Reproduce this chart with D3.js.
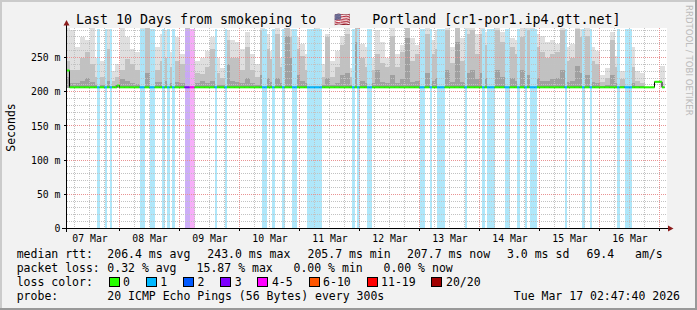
<!DOCTYPE html>
<html>
<head>
<meta charset="utf-8">
<script src="https://cdn.jsdelivr.net/npm/d3@7"></script>
<style>
	body { margin: 0; background: #f2f2f2; }
	svg { display: block; }
</style>
</head>
<body>
<div id="chart"></div>
<script>
// Smokeping 10 day graph, redrawn with d3

var HOUR = 3600 * 1000;
var startTime = Date.UTC(2026, 2, 7, 2, 47, 40);
var endTime = Date.UTC(2026, 2, 17, 2, 47, 40);
var smokeStart = Date.UTC(2026, 2, 7, 2, 0, 0);   // first 2h smoke block
var smokeFloor = 205;                              // ms, bottom of the smoke

// smoke, one value per 2 hour block (ms): top of light / mid / dark band
var smokeHi = [
	300, 290, 265, 280, 275, 300, 250, 245, 292, 230,
	240, 300, 280, 262, 258, 300, 300, 292, 265, 285,
	290, 258, 280, 255, 300, 282, 245, 250, 260, 280,
	250, 235, 290, 275, 272, 262, 288, 255, 240, 300,
	285, 260, 300, 250, 300, 292, 280, 270, 255, 288,
	300, 240, 285, 245, 260, 282, 300, 235, 300, 270,
	265, 250, 290, 272, 250, 295, 255, 268, 300, 278,
	268, 285, 300, 275, 290, 288, 300, 265, 300, 278,
	300, 300, 285, 300, 288, 280, 300, 288, 280, 278,
	275, 300, 295, 300, 285, 282, 272, 275, 270, 300,
	265, 270, 300, 292, 295, 265, 260, 225, 235, 288,
	252, 230, 245, 265, 230, 228, null, null, null, 237
];
var smokeMid = [
	245, 232, 232, 250, 258, 240, 222, 222, 262, 216,
	222, 232, 248, 240, 232, 290, 300, 275, 232, 245,
	250, 236, 245, 240, 300, 268, 228, 226, 236, 262,
	228, 220, 275, 250, 250, 232, 265, 232, 222, 290,
	262, 248, 285, 236, 300, 280, 262, 252, 232, 268,
	292, 222, 280, 222, 236, 268, 285, 222, 300, 250,
	236, 232, 255, 242, 236, 282, 236, 258, 300, 245,
	255, 265, 285, 255, 262, 268, 290, 242, 300, 245,
	285, 290, 255, 285, 268, 262, 290, 272, 262, 265,
	255, 280, 290, 280, 265, 258, 250, 255, 258, 290,
	245, 250, 292, 280, 282, 245, 240, 214, 220, 275,
	236, 218, 222, 236, 216, 213, null, null, null, null
];
var smokeLo = [
	222, 212, 212, 216, 220, 214, 210, 210, 216, 209,
	210, 218, 216, 212, 211, 225, 228, 228, 214, 214,
	216, 212, 214, 212, 232, 224, 212, 216, 212, 216,
	210, 210, 240, 216, 214, 212, 220, 212, 210, 224,
	220, 214, 220, 212, 282, 250, 225, 216, 212, 228,
	242, 210, 220, 210, 212, 224, 228, 210, 272, 216,
	212, 212, 232, 214, 212, 224, 212, 218, 278, 214,
	216, 220, 228, 216, 220, 224, 232, 214, 272, 214,
	228, 232, 218, 228, 220, 220, 232, 222, 218, 220,
	216, 232, 225, 228, 220, 216, 216, 218, 220, 232,
	214, 216, 238, 228, 225, 214, 212, 209, 210, 224,
	212, 209, 210, 212, 209, 208, null, null, null, null
];

// hours (counted from smokeStart) with packet loss
var lossHours1 = [13, 16, 18, 30, 31, 34, 35, 39, 41, 43, 60, 64, 79, 80, 83, 87, 91, 92,
	97, 98, 99, 100, 101, 102, 115, 117, 121, 122, 142, 143, 146, 149, 150, 151, 160,
	167, 169, 170, 171, 176, 177, 181, 184, 186, 187, 188, 200, 207, 210, 221, 224, 225, 226];
var lossHours3 = [48, 49];
var lossHours45 = [50, 51];

// median rtt runs: [first hour, end hour, ms]
var medianRuns = [[0, 2, 231], [2, 21, 206.4], [21, 22, 209], [22, 236, 206.4],
	[236, 239, 214.5], [239, 240, 206.4]];

var yTickValues = [0, 50, 100, 150, 200, 250];
var xTickLabels = ['07 Mar', '08 Mar', '09 Mar', '10 Mar', '11 Mar', '12 Mar', '13 Mar',
	'14 Mar', '15 Mar', '16 Mar'];

var lossNames = ['0', '1', '2', '3', '4-5', '6-10', '11-19', '20/20'];
var lossColors = ['#26ff00', '#00b8ff', '#0059ff', '#7e00ff', '#ff00ff', '#ff5500', '#ff0000', '#a10000'];

var legendLine1 = ['median rtt:', '206.4 ms avg', '243.0 ms max', '205.7 ms min', '207.7 ms now',
	'3.0 ms sd', '69.4   am/s'];
var legendLine2 = ['packet loss:', '0.32 % avg', '15.87 % max', '0.00 % min', '0.00 % now'];
var probeText = '20 ICMP Echo Pings (56 Bytes) every 300s';
var stampText = 'Tue Mar 17 02:47:40 2026';

// ---------------------------------------------------------------
var mono = '"DejaVu Sans Mono", monospace';
var W = 697, H = 310;

var svg = d3.select('#chart').append('svg')
	.attr('width', W)
	.attr('height', H)
	.style('font-family', mono);

svg.append('rect').attr('width', W).attr('height', H).attr('fill', '#f2f2f2');
svg.append('path').attr('d', 'M0,0H697V2H2V310H0Z').attr('fill', '#cbcbcb');
svg.append('path').attr('d', 'M697,0V310H0V308H695V0Z').attr('fill', '#999999');

var x = d3.scaleUtc().domain([startTime, endTime]).range([66.5, 666.5]);
var y = d3.scaleLinear().domain([0, 292.4]).range([228.5, 28.5]);

// white canvas
svg.append('rect')
	.attr('x', 67).attr('y', 28)
	.attr('width', 600).attr('height', 200)
	.attr('fill', '#ffffff');

svg.append('clipPath').attr('id', 'plotclip')
	.append('rect')
	.attr('x', 67).attr('y', 28)
	.attr('width', 600).attr('height', 200);

var plot = svg.append('g').attr('clip-path', 'url(#plotclip)');

// smoke
var blocks = smokeHi.map(function(v, i) {
	return {t: smokeStart + i * 2 * HOUR, hi: v, mid: smokeMid[i], lo: smokeLo[i]};
});
var layers = [['hi', '#dfdfdf'], ['mid', '#c1c1c1'], ['lo', '#a0a0a0']];
layers.forEach(function(l) {
	plot.append('g')
		.attr('shape-rendering', 'crispEdges')
		.selectAll('rect')
		.data(blocks.filter(function(d) { return d[l[0]] != null; }))
		.enter()
		.append('rect')
		.attr('x', function(d) { return x(d.t); })
		.attr('width', function(d) { return x(d.t + 2 * HOUR) - x(d.t); })
		.attr('y', function(d) { return y(d[l[0]]); })
		.attr('height', function(d) { return y(smokeFloor) - y(d[l[0]]); })
		.attr('fill', l[1]);
});

// loss background bars
var lossBars = [];
lossHours1.forEach(function(h) { lossBars.push({h: h, c: '#aae5fa'}); });
lossHours3.forEach(function(h) { lossBars.push({h: h, c: '#c9a9f6'}); });
lossHours45.forEach(function(h) { lossBars.push({h: h, c: '#f6a9f8'}); });
plot.append('g')
	.attr('shape-rendering', 'crispEdges')
	.selectAll('rect')
	.data(lossBars)
	.enter()
	.append('rect')
	.attr('x', function(d) { return x(smokeStart + d.h * HOUR); })
	.attr('width', function(d) { return x(smokeStart + (d.h + 1) * HOUR) - x(smokeStart + d.h * HOUR); })
	.attr('y', y(292.4))
	.attr('height', y(0) - y(292.4))
	.attr('fill', function(d) { return d.c; })
	.attr('fill-opacity', 0.94);

// grid
var minorY = d3.range(10, 292, 10).filter(function(v) { return v % 50 != 0; });
var majorY = d3.range(50, 292, 50);
var minorX = d3.utcHour.every(6).range(new Date(startTime), new Date(endTime))
	.filter(function(d) { return d.getUTCHours() != 0; });
var majorX = d3.utcDay.range(new Date(startTime), new Date(endTime));

function hgrid(vals, color) {
	plot.append('g').selectAll('line').data(vals).enter().append('line')
		.attr('x1', 67).attr('x2', 667)
		.attr('y1', function(d) { return Math.round(y(d) - 0.5) + 0.5; })
		.attr('y2', function(d) { return Math.round(y(d) - 0.5) + 0.5; })
		.attr('stroke', color).attr('stroke-dasharray', '1,1');
}
function vgrid(vals, color) {
	plot.append('g').selectAll('line').data(vals).enter().append('line')
		.attr('y1', 28).attr('y2', 228)
		.attr('x1', function(d) { return Math.round(x(d) - 0.5) + 0.5; })
		.attr('x2', function(d) { return Math.round(x(d) - 0.5) + 0.5; })
		.attr('stroke', color).attr('stroke-dasharray', '1,1');
}
hgrid(minorY, '#c2c2c2');
vgrid(minorX, '#c2c2c2');
hgrid(majorY, '#e99393');
vgrid(majorX, '#e99393');

// median line
var medianPts = [];
medianRuns.forEach(function(r) {
	for (var h = r[0]; h < r[1]; h++) medianPts.push({h: h, v: r[2]});
});
function lossLevel(h) {
	if (lossHours1.indexOf(h) >= 0) return 1;
	if (lossHours3.indexOf(h) >= 0) return 3;
	if (lossHours45.indexOf(h) >= 0) return 4;
	return 0;
}
var stepPts = medianPts.concat([{h: 240, v: medianPts[medianPts.length - 1].v}]);
plot.append('path')
	.datum(stepPts)
	.attr('d', d3.line()
		.x(function(d) { return x(smokeStart + d.h * HOUR); })
		.y(function(d) { return y(d.v); })
		.curve(d3.curveStepAfter))
	.attr('fill', 'none')
	.attr('stroke', '#000')
	.attr('stroke-width', 1);
plot.append('g').selectAll('line')
	.data(medianPts)
	.enter()
	.append('line')
	.attr('x1', function(d) { return x(smokeStart + d.h * HOUR); })
	.attr('x2', function(d) { return x(smokeStart + (d.h + 1) * HOUR); })
	.attr('y1', function(d) { return y(d.v); })
	.attr('y2', function(d) { return y(d.v); })
	.attr('stroke', function(d) { return lossColors[lossLevel(d.h)]; })
	.attr('stroke-width', 2);

// axes
var yAxis = d3.axisLeft(y)
	.tickValues(yTickValues)
	.tickSize(0)
	.tickPadding(6)
	.tickFormat(function(d) { return d == 0 ? '0' : d + ' m'; });
var gy = svg.append('g').attr('transform', 'translate(66.5,0)').call(yAxis);
gy.select('.domain').remove();
gy.attr('font-family', mono).attr('font-size', 9.8);
gy.selectAll('text').attr('fill', '#000');

var parseTick = d3.utcParse('%d %b %Y %H:%M');
var xAxis = d3.axisBottom(x)
	.tickValues(xTickLabels.map(function(l) { return parseTick(l + ' 2026 12:00'); }))
	.tickSize(0)
	.tickFormat(d3.utcFormat('%d %b'));
var gx = svg.append('g').attr('transform', 'translate(0,228.5)').call(xAxis);
gx.select('.domain').remove();
gx.attr('font-family', mono).attr('font-size', 9.8);
gx.selectAll('text').attr('fill', '#000').attr('y', 13).attr('dy', 0);

// small ticks at the major grid
svg.append('g').selectAll('line').data(majorX).enter().append('line')
	.attr('x1', function(d) { return Math.round(x(d) - 0.5) + 0.5; })
	.attr('x2', function(d) { return Math.round(x(d) - 0.5) + 0.5; })
	.attr('y1', 228).attr('y2', 231)
	.attr('stroke', '#000');
svg.append('g').selectAll('line').data(majorY).enter().append('line')
	.attr('y1', function(d) { return Math.round(y(d) - 0.5) + 0.5; })
	.attr('y2', function(d) { return Math.round(y(d) - 0.5) + 0.5; })
	.attr('x1', 64).attr('x2', 67)
	.attr('stroke', '#000');

// axis lines and arrows
svg.append('line').attr('x1', 62).attr('x2', 669).attr('y1', 228.5).attr('y2', 228.5)
	.attr('stroke', '#000');
svg.append('line').attr('x1', 66.5).attr('x2', 66.5).attr('y1', 232).attr('y2', 24)
	.attr('stroke', '#000');
svg.append('path').attr('d', 'M668,225.5L673.5,228.5L668,231.5Z').attr('fill', '#8b1c1c');
svg.append('path').attr('d', 'M63.5,25.5L66.5,20L69.5,25.5Z').attr('fill', '#8b1c1c');

// title
var title = svg.append('text')
	.attr('y', 24)
	.attr('font-size', 13.3)
	.attr('fill', '#000');
title.append('tspan').attr('x', 76).text('Last 10 Days from smokeping to');
title.append('tspan').attr('x', 334).text('\u{1F1FA}\u{1F1F8}');
title.append('tspan').attr('x', 372.3).text('Portland [cr1-por1.ip4.gtt.net]');

// vertical unit label
svg.append('text')
	.attr('transform', 'translate(15,127.5) rotate(-90)')
	.attr('text-anchor', 'middle')
	.attr('font-size', 11.5)
	.attr('fill', '#000')
	.text('Seconds');

// watermark
svg.append('text')
	.attr('transform', 'translate(686,5) rotate(90)')
	.attr('font-family', '"DejaVu Sans", sans-serif')
	.attr('font-size', 8.6)
	.attr('fill', '#bcbcbc')
	.text('RRDTOOL / TOBI OETIKER');

// legend
var legend = svg.append('g').attr('font-size', 11.5).attr('fill', '#000');
var line1X = [16.7, 107.3, 207.3, 307.5, 407, 507, 586.5];
var line2X = [16.7, 107.3, 196.6, 293.5, 383.5];
legendLine1.forEach(function(t, i) {
	legend.append('text').attr('x', line1X[i]).attr('y', 258)
		.attr('xml:space', 'preserve').style('white-space', 'pre').text(t);
});
legendLine2.forEach(function(t, i) {
	legend.append('text').attr('x', line2X[i]).attr('y', 272).text(t);
});
legend.append('text').attr('x', 16.7).attr('y', 286).text('loss color:');
var bx = 108.5;
lossNames.forEach(function(n, i) {
	legend.append('rect')
		.attr('x', Math.round(bx) + 0.5).attr('y', 277.5)
		.attr('width', 10).attr('height', 9)
		.attr('fill', lossColors[i])
		.attr('stroke', '#000');
	var t = legend.append('text').attr('x', bx + 14.5).attr('y', 286).text(n);
	bx = bx + 14.5 + t.node().getComputedTextLength() + 15.8;
});
legend.append('text').attr('x', 16.7).attr('y', 300).text('probe:');
legend.append('text').attr('x', 107.3).attr('y', 300).text(probeText);
legend.append('text').attr('x', 680).attr('y', 300).attr('text-anchor', 'end').text(stampText);
</script>
</body>
</html>
